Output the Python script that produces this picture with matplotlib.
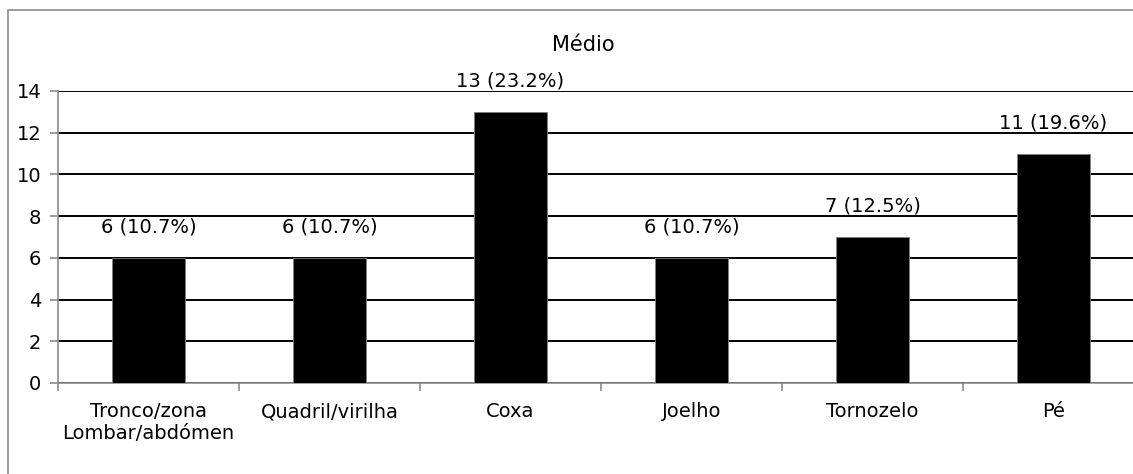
import matplotlib.pyplot as plt
import numpy as np
from matplotlib.patches import Rectangle

categories = ["Tronco/zona\nLombar/abdómen", "Quadril/virilha", "Coxa",
              "Joelho", "Tornozelo", "Pé"]
values = [6, 6, 13, 6, 7, 11]
labels = ["6 (10.7%)", "6 (10.7%)", "13 (23.2%)", "6 (10.7%)",
          "7 (12.5%)", "11 (19.6%)"]
yticks = [0, 2, 4, 6, 8, 10, 12, 14]


def main():
    fig = plt.figure(figsize=(11.33, 4.74), dpi=100)

    # outer chart border (cropped on right and bottom)
    fig.patches.append(Rectangle((8 / 1133, -0.1), 1.2, 1 - 10 / 474 + 0.1,
                                 transform=fig.transFigure, fill=False,
                                 edgecolor="#8c8c8c", linewidth=1.2))

    ax = fig.add_axes([58 / 1133, 1 - 383 / 474, (1144 - 58) / 1133, (383 - 91) / 474])
    x = np.arange(len(categories))
    ax.bar(x, values, width=0.4, color="black", edgecolor="#7f7f7f",
           linewidth=0.6, zorder=3)

    # value labels, offset in points above each bar
    for xi, v, lab in zip(x, values, labels):
        ax.annotate(lab, (xi, v), xytext=(0, 22), textcoords="offset points",
                    ha="center", va="center", fontsize=14)

    ax.set_xlim(-0.5, len(categories) - 0.5)
    ax.set_ylim(0, 14)
    ax.set_yticks(yticks)
    ax.yaxis.grid(True, color="black", linewidth=1.4, zorder=0)
    ax.set_axisbelow(True)

    ax.set_xticks(x)
    ax.set_xticklabels(categories, fontsize=14)
    ax.set_xticks(np.arange(len(categories) + 1) - 0.5, minor=True)
    ax.tick_params(axis="x", which="major", length=0, pad=14)
    ax.tick_params(axis="x", which="minor", length=6, color="#8c8c8c", width=1.2)
    ax.tick_params(axis="y", length=6, color="#8c8c8c", width=1.2,
                   labelsize=14, pad=6)

    for s in ["top", "right"]:
        ax.spines[s].set_visible(False)
    for s in ["left", "bottom"]:
        ax.spines[s].set_color("#8c8c8c")
        ax.spines[s].set_linewidth(1.2)

    fig.text(583 / 1133, 1 - 45 / 474, "Médio", ha="center", va="center",
             fontsize=15)

    fig.savefig("out.png", dpi=100)


if __name__ == "__main__":
    main()
